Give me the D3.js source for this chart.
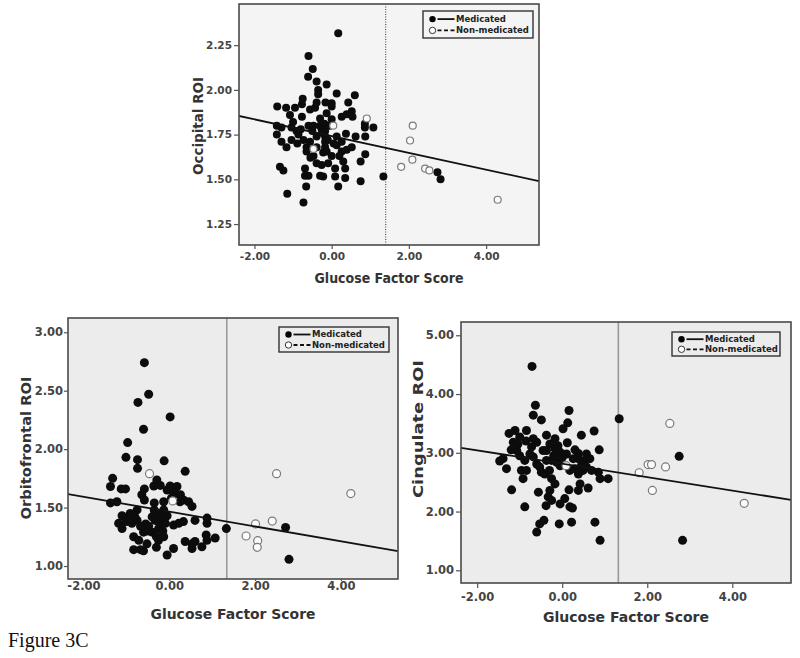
<!DOCTYPE html>
<html><head><meta charset="utf-8">
<script src="https://cdn.jsdelivr.net/npm/d3@7"></script>
<style>body{margin:0;background:#fff}svg{display:block}</style>
</head><body>
<svg id="c" width="800" height="658"></svg>
<script>
// ---------------- DATA ----------------
const xTicks = [-2, 0, 2, 4];
const occTicks = [1.25, 1.50, 1.75, 2.00, 2.25];
const ofcTicks = [1.00, 1.50, 2.00, 2.50, 3.00];
const cinTicks = [1.00, 2.00, 3.00, 4.00, 5.00];
const legendLabels = ["Medicated", "Non-medicated"];
const xTitle = "Glucose Factor Score";
const yTitles = ["Occipital ROI", "Orbitofrontal ROI", "Cingulate ROI"];
const caption = "Figure 3C";

// Occipital (top panel)
const occMed = [[0.17,2.316],[-0.60,2.19],[-0.49,2.117],[-0.61,2.074],[-0.39,2.047],[-0.13,2.03],[-0.35,2.00],[-0.35,1.976],[0.13,1.98],[0.60,1.97],[0.43,1.93],[-0.75,1.95],[-1.41,1.907],[-1.18,1.90],[-0.95,1.90],[-0.77,1.92],[-0.39,1.93],[-0.16,1.93],[0,1.925],[0,1.907],[-0.56,1.89],[-1.08,1.86],[-0.77,1.85],[-0.43,1.90],[-0.30,1.84],[-0.13,1.87],[0,1.836],[0.26,1.85],[0.39,1.864],[0.52,1.88],[0.54,1.85],[0.86,1.81],[0.86,1.79],[1.08,1.79],[-1.42,1.80],[-1.30,1.79],[-1.04,1.79],[-0.91,1.77],[-0.60,1.80],[-0.47,1.80],[-0.30,1.80],[-0.19,1.81],[-0.26,1.78],[-0.17,1.77],[-0.17,1.74],[-0.17,1.71],[-0.17,1.68],[-0.13,1.656],[-1.42,1.75],[-1.30,1.71],[-1.17,1.68],[-1.04,1.72],[-0.86,1.75],[-0.89,1.70],[-0.73,1.72],[-0.65,1.68],[-0.65,1.656],[-0.56,1.71],[-0.39,1.74],[-0.39,1.68],[0.13,1.74],[0.13,1.69],[0.26,1.71],[0.37,1.755],[0.26,1.656],[0.39,1.665],[0.52,1.68],[0.62,1.74],[0.87,1.74],[0.87,1.64],[-0.47,1.63],[-0.39,1.59],[-0.26,1.58],[-0.09,1.59],[0,1.63],[0.30,1.60],[0.75,1.60],[-1.34,1.57],[-1.25,1.55],[-0.69,1.56],[-0.69,1.52],[-0.60,1.52],[-0.30,1.52],[-0.22,1.516],[0.09,1.516],[0.09,1.56],[0.35,1.56],[0.35,1.507],[-0.66,1.46],[0.17,1.46],[0.75,1.49],[-1.15,1.42],[-0.73,1.37],[1.34,1.516],[2.74,1.54],[2.82,1.50],[-0.25,1.76],[-0.10,1.72],[-0.50,1.77],[-0.05,1.80],[0.05,1.70],[-0.22,1.65],[-0.80,1.78],[-1.00,1.82],[0.20,1.63],[-0.55,1.62]];
const occNon = [[0.91,1.84],[0.04,1.80],[-0.47,1.67],[1.80,1.57],[2.03,1.717],[2.10,1.80],[2.09,1.61],[2.42,1.56],[2.53,1.55],[4.30,1.386]];
const occFit = [[-2.40,1.854],[5.37,1.49]];
const occCut = 1.40;

// Orbitofrontal (bottom left)
const ofcMed = [[-0.58,2.74],[-0.48,2.47],[-0.73,2.40],[0.02,2.276],[-0.60,2.17],[-0.97,2.056],[-1.01,1.93],[-0.74,1.91],[-0.74,1.836],[-0.12,1.90],[0.37,1.81],[-1.32,1.75],[-1.37,1.68],[-1.12,1.66],[-1.02,1.66],[-0.58,1.66],[-0.64,1.61],[-0.58,1.565],[-0.36,1.685],[-0.29,1.736],[-0.21,1.69],[-0.05,1.65],[0.02,1.685],[0.18,1.68],[0.10,1.63],[0.26,1.61],[0.33,1.565],[0.45,1.55],[0.53,1.51],[-1.37,1.54],[-1.22,1.55],[-0.35,1.54],[-0.13,1.55],[-0.35,1.48],[-0.35,1.44],[-0.33,1.39],[-0.48,1.34],[-0.60,1.29],[-0.40,1.29],[-0.25,1.32],[-0.19,1.365],[-0.17,1.42],[-0.13,1.48],[-0.09,1.365],[-0.25,1.22],[-0.30,1.16],[-0.13,1.25],[-0.75,1.48],[-0.91,1.45],[-0.95,1.41],[-1.10,1.43],[-1.18,1.365],[-1.10,1.32],[-0.87,1.365],[-0.75,1.39],[-0.67,1.34],[-0.83,1.25],[-0.71,1.22],[-0.83,1.14],[-0.67,1.14],[-0.60,1.13],[-0.52,1.19],[-0.05,1.094],[0.10,1.15],[0.10,1.35],[0.22,1.365],[0.33,1.38],[0.37,1.21],[0.53,1.19],[0.53,1.15],[0.60,1.21],[0.76,1.165],[0.88,1.22],[0.86,1.265],[0.88,1.365],[0.88,1.41],[1.07,1.24],[0.60,1.39],[1.33,1.32],[2.71,1.33],[2.79,1.057],[-0.20,1.45],[-0.25,1.38],[-0.40,1.42],[-0.50,1.30],[-0.15,1.30],[-0.05,1.43],[0.15,1.62],[0.05,1.58],[0.25,1.55],[-0.80,1.42],[-0.55,1.36],[-0.30,1.25],[-1.00,1.38]];
const ofcNon = [[-0.46,1.79],[0.08,1.557],[1.79,1.257],[2.01,1.36],[2.06,1.217],[2.05,1.16],[2.40,1.385],[2.50,1.79],[4.23,1.62]];
const ofcFit = [[-2.36,1.615],[5.33,1.128]];
const ofcCut = 1.34;

// Cingulate (bottom right)
const cinMed = [[-0.71,4.47],[-0.63,3.81],[-0.68,3.64],[-0.49,3.56],[0.16,3.72],[0.13,3.51],[0.02,3.41],[1.34,3.58],[-1.25,3.33],[-1.11,3.38],[-1.00,3.27],[-0.84,3.38],[-1.15,3.18],[-1.04,3.15],[-0.68,3.24],[-0.60,3.18],[-0.72,3.10],[-0.37,3.30],[-0.17,3.24],[-0.29,3.15],[-0.37,3.04],[-0.17,3.07],[-0.05,3.01],[0.12,3.17],[0.45,3.30],[0.75,3.37],[0.87,3.05],[0.38,2.99],[0.57,2.98],[0.38,2.90],[0.53,2.87],[0.45,2.78],[-1.39,2.90],[-1.31,2.73],[-1.00,2.95],[-0.88,2.87],[-0.96,2.70],[-0.84,2.70],[-0.92,2.56],[-0.68,2.93],[-0.60,2.81],[-0.49,2.67],[-0.37,2.87],[-0.25,2.87],[-0.13,2.84],[-0.05,2.78],[0.18,2.70],[0.30,2.73],[0.38,2.64],[0.49,2.70],[0.57,2.76],[0.69,2.70],[0.85,2.67],[0.89,2.56],[1.08,2.56],[-1.19,2.37],[-0.56,2.33],[-0.25,2.56],[-0.17,2.47],[-0.29,2.36],[-0.33,2.25],[-0.25,2.19],[-0.05,2.13],[0.06,2.22],[0.18,2.08],[0.16,2.37],[0.38,2.36],[0.61,2.40],[0.42,2.47],[-0.88,2.08],[-0.38,2.10],[-0.53,1.79],[-0.43,1.85],[-0.60,1.65],[-0.07,1.79],[0.22,1.82],[0.77,1.82],[0.89,1.51],[2.83,1.51],[2.75,2.94],[0.24,2.06],[-1.47,2.86],[0.10,2.98],[0.26,2.90],[-0.45,3.04],[-0.76,2.98],[-0.53,2.76],[-0.41,2.64],[-1.07,3.04],[-0.20,2.95],[-0.10,3.12],[0.00,2.92],[-0.30,2.70],[-0.85,3.20],[-1.20,3.05],[0.30,3.05],[0.65,2.90]];
const cinNon = [[0.09,2.78],[1.81,2.66],[2.02,2.80],[2.10,2.80],[2.12,2.36],[2.43,2.76],[2.53,3.50],[4.28,2.14]];
const cinFit = [[-2.38,3.085],[5.38,2.20]];
const cinCut = 1.32;

// ---------------- LAYOUT ----------------
const svg = d3.select("#c");
const FONT = "'DejaVu Sans', Verdana, sans-serif";

const panels = [
  {med: occMed, non: occNon, fit: occFit, cut: occCut, yTicks: occTicks, yTitle: yTitles[0],
   l: 239, r: 539, t: 4, b: 245, xd: [-2.40, 5.37], yd: [1.133, 2.48],
   bg: "#f4f4f4", r0: 4.0, tickFont: 10.5, titleFont: 13.5, cutStyle: "dotted",
   xTickSize: 4, xPad: 4, yTickSize: 5, yPad: 2, xTitleY: 278, xTitleLen: 149,
   yTitleX: 198, yTitleY: 126, yTitleLen: 98,
   leg: {x: 423, y: 11, w: 110, h: 27, fs: 8.5}},
  {med: ofcMed, non: ofcNon, fit: ofcFit, cut: ofcCut, yTicks: ofcTicks, yTitle: yTitles[1],
   l: 68, r: 398, t: 318, b: 579, xd: [-2.36, 5.33], yd: [0.889, 3.122],
   bg: "#ececec", r0: 4.5, tickFont: 11.5, titleFont: 14, cutStyle: "solid",
   xTickSize: 2, xPad: 1, yTickSize: 4, yPad: 1, xTitleY: 614, xTitleLen: 165,
   yTitleX: 26, yTitleY: 448, yTitleLen: 143,
   leg: {x: 279, y: 327, w: 110, h: 25, fs: 8.5}},
  {med: cinMed, non: cinNon, fit: cinFit, cut: cinCut, yTicks: cinTicks, yTitle: yTitles[2],
   l: 461, r: 791, t: 322, b: 583, xd: [-2.38, 5.38], yd: [0.784, 5.226],
   bg: "#ececec", r0: 4.5, tickFont: 11.5, titleFont: 14.5, cutStyle: "solid",
   xTickSize: 5, xPad: 5, yTickSize: 5, yPad: 2, xTitleY: 617, xTitleLen: 166,
   yTitleX: 418, yTitleY: 429, yTitleLen: 138,
   leg: {x: 672, y: 332, w: 108, h: 24, fs: 8.5}}
];

const fmt = d => d.toFixed(2);

panels.forEach((p, i) => {
  const g = svg.append("g");
  const x = d3.scaleLinear().domain(p.xd).range([p.l, p.r]);
  const y = d3.scaleLinear().domain(p.yd).range([p.b, p.t]);

  g.append("rect").attr("x", p.l).attr("y", p.t).attr("width", p.r - p.l).attr("height", p.b - p.t)
    .attr("fill", p.bg);

  const clipId = "clip" + i;
  svg.append("clipPath").attr("id", clipId).append("rect")
    .attr("x", p.l).attr("y", p.t).attr("width", p.r - p.l).attr("height", p.b - p.t);
  const inner = g.append("g").attr("clip-path", `url(#${clipId})`);

  // reference cut line
  inner.append("line").attr("x1", x(p.cut)).attr("x2", x(p.cut)).attr("y1", p.t).attr("y2", p.b)
    .attr("stroke", p.cutStyle === "dotted" ? "#333" : "#9a9a9a")
    .attr("stroke-width", p.cutStyle === "dotted" ? 1 : 1.6)
    .attr("stroke-dasharray", p.cutStyle === "dotted" ? "1,1.5" : null);

  // points
  inner.selectAll("circle.med").data(p.med).join("circle").attr("class", "med")
    .attr("cx", d => x(d[0])).attr("cy", d => y(d[1])).attr("r", p.r0)
    .attr("fill", "#0c0c0c");
  inner.selectAll("circle.non").data(p.non).join("circle").attr("class", "non")
    .attr("cx", d => x(d[0])).attr("cy", d => y(d[1])).attr("r", p.r0 - 0.5)
    .attr("fill", "#fbfbfb").attr("stroke", "#7a7a7a").attr("stroke-width", 1.2);

  // fit line
  inner.append("line")
    .attr("x1", x(p.fit[0][0])).attr("y1", y(p.fit[0][1]))
    .attr("x2", x(p.fit[1][0])).attr("y2", y(p.fit[1][1]))
    .attr("stroke", "#111").attr("stroke-width", 1.8);

  // legend
  const L = p.leg;
  const lg = g.append("g");
  lg.append("rect").attr("x", L.x).attr("y", L.y).attr("width", L.w).attr("height", L.h)
    .attr("fill", p.bg).attr("stroke", "#333").attr("stroke-width", 1.4);
  legendLabels.forEach((lab, k) => {
    const cy = L.y + L.h * (k === 0 ? 0.3 : 0.72);
    const cx = L.x + 9.5;
    lg.append("circle").attr("cx", cx).attr("cy", cy).attr("r", 3.2)
      .attr("fill", k === 0 ? "#000" : "#fff").attr("stroke", k === 0 ? "none" : "#333").attr("stroke-width", 1);
    lg.append("line").attr("x1", cx + 5).attr("x2", cx + 22).attr("y1", cy).attr("y2", cy)
      .attr("stroke", "#111").attr("stroke-width", 1.8)
      .attr("stroke-dasharray", k === 0 ? null : "4,2.5");
    lg.append("text").attr("x", cx + 23.5).attr("y", cy).attr("dy", "0.35em")
      .attr("font-family", FONT).attr("font-weight", "bold").attr("font-size", L.fs)
      .attr("fill", "#222").text(lab);
  });

  // frame
  g.append("rect").attr("x", p.l).attr("y", p.t).attr("width", p.r - p.l).attr("height", p.b - p.t)
    .attr("fill", "none").attr("stroke", "#4a4a4a").attr("stroke-width", 1.6);

  // axes
  const xa = g.append("g").attr("transform", `translate(0,${p.b})`)
    .call(d3.axisBottom(x).tickValues(xTicks).tickFormat(fmt)
      .tickSize(p.xTickSize).tickPadding(p.xPad));
  const ya = g.append("g").attr("transform", `translate(${p.l},0)`)
    .call(d3.axisLeft(y).tickValues(p.yTicks).tickFormat(fmt)
      .tickSize(p.yTickSize).tickPadding(p.yPad));
  [xa, ya].forEach(a => {
    a.select(".domain").remove();
    a.selectAll(".tick line").attr("stroke", "#555").attr("stroke-width", 1.2);
    a.selectAll(".tick text").attr("font-family", FONT).attr("font-weight", "bold")
      .attr("font-size", p.tickFont).attr("fill", "#444");
  });

  // titles
  g.append("text").attr("x", (p.l + p.r) / 2).attr("y", p.xTitleY).attr("dy", "0.35em")
    .attr("text-anchor", "middle").attr("font-family", FONT).attr("font-weight", "bold")
    .attr("font-size", p.titleFont).attr("fill", "#333")
    .attr("textLength", p.xTitleLen).attr("lengthAdjust", "spacingAndGlyphs").text(xTitle);
  g.append("text").attr("transform", `translate(${p.yTitleX},${p.yTitleY}) rotate(-90)`)
    .attr("dy", "0.35em").attr("text-anchor", "middle").attr("font-family", FONT)
    .attr("font-weight", "bold").attr("font-size", p.titleFont).attr("fill", "#333")
    .attr("textLength", p.yTitleLen).attr("lengthAdjust", "spacingAndGlyphs").text(p.yTitle);
});

svg.append("text").attr("x", 8).attr("y", 647)
  .attr("font-family", "'Liberation Serif', 'Times New Roman', serif")
  .attr("font-size", 20).attr("fill", "#111").text(caption);
</script>
</body></html>
